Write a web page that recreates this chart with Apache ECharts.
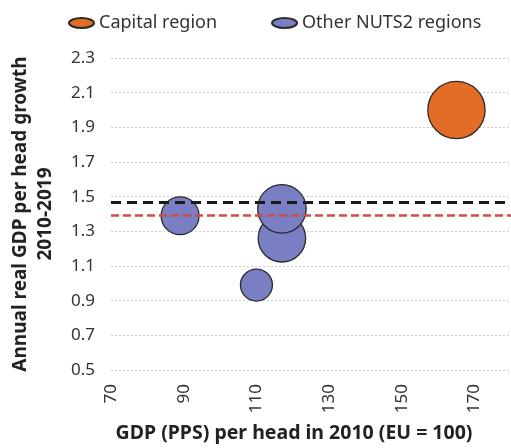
<!DOCTYPE html>
<html>
<head>
    <meta charset="utf-8">
    <title>GDP per head growth</title>
    <script src="https://cdn.jsdelivr.net/npm/echarts@6/dist/echarts.min.js"></script>
</head>
<body style="margin:0">
    <div id="main" style="width: 511px;height:448px;"></div>
    <script type="text/javascript">
        // GDP (PPS) per head 2010, growth 2010-2019, bubble weight
        var capitalX = [165];
        var capitalY = [2.0];
        var capitalW = [3.2];

        var otherX = [89, 110, 117, 117];
        var otherY = [1.39, 0.99, 1.26, 1.43];
        var otherW = [1.4, 1.0, 2.2, 2.3];

        // reference averages (dashed lines)
        var lineBlack = 1.47;
        var lineRed = 1.39;

        var legendNames = ['Capital region', 'Other NUTS2 regions'];

        function pts(xs, ys, ws) {
            var out = [];
            for (var i = 0; i < xs.length; i++) out.push([xs[i], ys[i], ws[i]]);
            return out;
        }
        function bubbleSize(v) { return 32 * Math.sqrt(v[2]); }

        var font = 'Noto Sans';
        var ellipse = 'path://M0,5 A12.5,5 0 1,1 25,5 A12.5,5 0 1,1 0,5 Z';

        var myChart = echarts.init(document.getElementById('main'));
        var option = {
            animation: false,
            textStyle: { fontFamily: font },
            legend: {
                data: legendNames,
                left: 63, top: 9,
                itemWidth: 25, itemHeight: 11,
                itemGap: 54,
                icon: ellipse,
                textStyle: { fontSize: 18, color: '#333', fontFamily: font }
            },
            grid: { left: 110, right: 0, top: 58, bottom: 76 },
            xAxis: {
                type: 'value', min: 70, max: 180, interval: 20,
                name: 'GDP (PPS) per head in 2010 (EU = 100)',
                nameLocation: 'middle', nameGap: 53,
                nameTextStyle: { fontWeight: 'bold', fontSize: 19.5, color: '#222', padding: [0, 34, 0, 0] },
                axisLine: { show: false }, axisTick: { show: false },
                splitLine: { show: false },
                axisLabel: { rotate: 90, margin: 14, fontSize: 17, color: '#333', showMaxLabel: false }
            },
            yAxis: {
                type: 'value', min: 0.5, max: 2.3, interval: 0.2,
                name: 'Annual real GDP per head growth\n2010-2019',
                nameLocation: 'middle', nameGap: 53,
                nameTextStyle: { fontWeight: 'bold', fontSize: 19, color: '#222', lineHeight: 25 },
                axisLine: { show: false }, axisTick: { show: false },
                axisLabel: { margin: 16, fontSize: 17, color: '#333', formatter: function (v) { return v.toFixed(1); } },
                splitLine: { lineStyle: { color: '#cfcfcf', type: [2, 2], width: 1 } }
            },
            series: [
                {
                    name: legendNames[0], type: 'scatter',
                    data: pts(capitalX, capitalY, capitalW),
                    symbolSize: bubbleSize,
                    itemStyle: { color: '#E46D25', borderColor: '#2b2b2b', borderWidth: 1.3, opacity: 1 }
                },
                {
                    name: legendNames[1], type: 'scatter',
                    data: pts(otherX, otherY, otherW),
                    symbolSize: bubbleSize,
                    itemStyle: { color: '#7A7EC2', borderColor: '#2b2b2b', borderWidth: 1.3, opacity: 1 }
                },
                {
                    type: 'scatter', data: [], z: 5, silent: true,
                    markLine: {
                        silent: true, symbol: 'none', label: { show: false },
                        data: [
                            { yAxis: lineBlack, lineStyle: { color: '#1a1a1a', width: 3, type: [10, 6] } },
                            { yAxis: lineRed, lineStyle: { color: '#CC4B4B', width: 2.5, type: [8, 4] } }
                        ]
                    }
                }
            ]
        };
        myChart.setOption(option);
    </script>
</body>
</html>
